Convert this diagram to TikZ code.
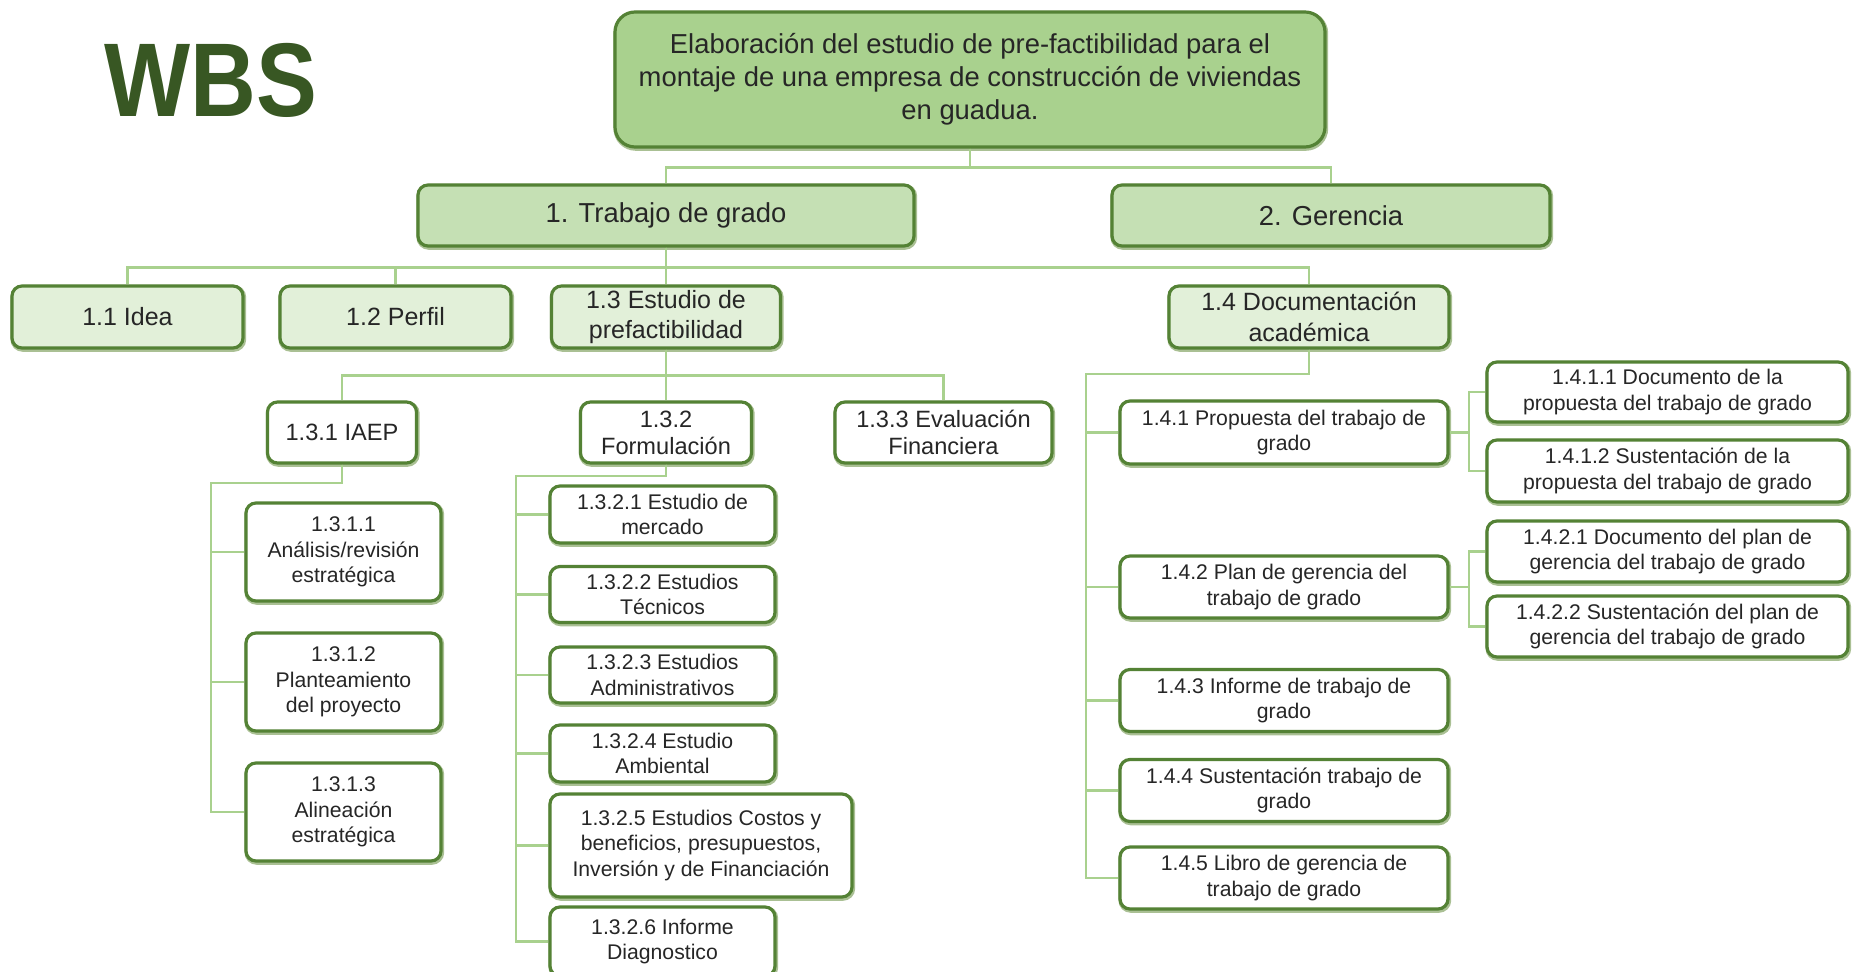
\documentclass[tikz,border=0pt]{standalone}
\usepackage{fontspec}
\setmainfont{Liberation Sans}

\definecolor{boxline}{RGB}{84,130,53}
\definecolor{halo}{RGB}{170,192,148}
\definecolor{linkgreen}{RGB}{169,209,142}
\definecolor{rootfill}{RGB}{169,209,142}
\definecolor{onefill}{RGB}{197,224,180}
\definecolor{twofill}{RGB}{226,240,217}
\definecolor{wbsgreen}{RGB}{56,87,35}
\definecolor{txt}{RGB}{38,38,38}

\tikzset{every picture/.style={line width=0.75pt}}
\tikzset{
  wbsbox/.style={draw=boxline, fill=white, line width=1.6pt, rounded corners=5pt, inner sep=0pt, align=center, text=txt,
    preaction={draw=halo, line width=2.4pt, transform canvas={xshift=0.4pt,yshift=-0.7pt}}},
  rootbox/.style={wbsbox, fill=rootfill, rounded corners=10pt, font=\fontsize{13.7}{16.5}\selectfont},
  onebox/.style={wbsbox, fill=onefill, minimum height=30.5pt, font=\fontsize{13.7}{16.5}\selectfont},
  twobox/.style={wbsbox, fill=twofill, minimum height=31pt, font=\fontsize{12.5}{15.4}\selectfont},
  threebox/.style={wbsbox, minimum height=30.5pt, font=\fontsize{11.8}{13.6}\selectfont},
  leafbox/.style={wbsbox, font=\fontsize{10.6}{12.8}\selectfont},
  link/.style={draw=linkgreen, line width=1.2pt}
}

\begin{document}
\begin{tikzpicture}[x=0.5pt,y=0.5pt,yscale=-1,xscale=1]
\useasboundingbox (0,0) rectangle (1855,972);
\clip (0,0) rectangle (1855,972);

% Title
\node[anchor=base, text=wbsgreen, font=\fontsize{52.4}{52.4}\bfseries\selectfont] (title) at (211,117) {\scalebox{0.87}[1]{WBS}};

%Rounded Rect: root and first level
\node[rootbox, minimum width=355pt, minimum height=67.5pt] (root) at (970,79.5)
  {Elaboración del estudio de pre-factibilidad para el\\montaje de una empresa de construcción de viviendas\\en guadua.};
\node[onebox, minimum width=248pt] (t1) at (666,215.5) {1. Trabajo de grado};
\node[onebox, minimum width=219pt] (g2) at (1331,215.5) {2. Gerencia};

%Rounded Rect: second level
\node[twobox, minimum width=115.5pt] (n11) at (127.5,317) {1.1 Idea};
\node[twobox, minimum width=115.5pt] (n12) at (395.5,317) {1.2 Perfil};
\node[twobox, minimum width=114.5pt] (n13) at (666,317) {1.3 Estudio de\\prefactibilidad};
\node[twobox, minimum width=140pt] (n14) at (1309,317) {1.4 Documentación\\académica};

%Rounded Rect: third level
\node[threebox, minimum width=74.5pt] (n131) at (342,432.5) {1.3.1 IAEP};
\node[threebox, minimum width=85.5pt] (n132) at (666,432.5) {1.3.2\\Formulación};
\node[threebox, minimum width=108.5pt] (n133) at (943.5,432.5) {1.3.3 Evaluación\\Financiera};

%Rounded Rect: 1.3.1
\node[leafbox, minimum width=97.5pt, minimum height=49pt] (n1311) at (343.5,552) {1.3.1.1\\Análisis/revisión\\estratégica};
\node[leafbox, minimum width=97.5pt, minimum height=49pt] (n1312) at (343.5,682) {1.3.1.2\\Planteamiento\\del proyecto};
\node[leafbox, minimum width=97.5pt, minimum height=49pt] (n1313) at (343.5,812) {1.3.1.3\\Alineación\\estratégica};

%Rounded Rect: 1.3.2
\node[leafbox, minimum width=112.5pt, minimum height=28.5pt] (n1321) at (662.5,514.5) {1.3.2.1 Estudio de\\mercado};
\node[leafbox, minimum width=112.5pt, minimum height=28pt] (n1322) at (662.5,594.5) {1.3.2.2 Estudios\\Técnicos};
\node[leafbox, minimum width=112.5pt, minimum height=28pt] (n1323) at (662.5,675) {1.3.2.3 Estudios\\Administrativos};
\node[leafbox, minimum width=112.5pt, minimum height=28.5pt] (n1324) at (662.5,753.5) {1.3.2.4 Estudio\\Ambiental};
\node[leafbox, minimum width=151pt, minimum height=51.5pt] (n1325) at (701,845.5) {1.3.2.5 Estudios Costos y\\beneficios, presupuestos,\\Inversión y de Financiación};
\node[leafbox, minimum width=112.5pt, minimum height=34.5pt] (n1326) at (662.5,941.5) {1.3.2.6 Informe\\Diagnostico};

%Rounded Rect: 1.4
\node[leafbox, minimum width=164pt, minimum height=31.5pt] (n141) at (1284,432.5) {1.4.1 Propuesta del trabajo de\\grado};
\node[leafbox, minimum width=164pt, minimum height=31pt] (n142) at (1284,587) {1.4.2 Plan de gerencia del\\trabajo de grado};
\node[leafbox, minimum width=164pt, minimum height=31pt] (n143) at (1284,700.5) {1.4.3 Informe de trabajo de\\grado};
\node[leafbox, minimum width=164pt, minimum height=31pt] (n144) at (1284,790.5) {1.4.4 Sustentación trabajo de\\grado};
\node[leafbox, minimum width=164pt, minimum height=31pt] (n145) at (1284,878) {1.4.5 Libro de gerencia de\\trabajo de grado};

%Rounded Rect: 1.4.1 and 1.4.2
\node[leafbox, minimum width=180.5pt, minimum height=30pt] (n1411) at (1667.5,392) {1.4.1.1 Documento de la\\propuesta del trabajo de grado};
\node[leafbox, minimum width=180.5pt, minimum height=31pt] (n1412) at (1667.5,471) {1.4.1.2 Sustentación de la\\propuesta del trabajo de grado};
\node[leafbox, minimum width=180.5pt, minimum height=30.5pt] (n1421) at (1667.5,551.5) {1.4.2.1 Documento del plan de\\gerencia del trabajo de grado};
\node[leafbox, minimum width=180.5pt, minimum height=30.5pt] (n1422) at (1667.5,626.5) {1.4.2.2 Sustentación del plan de\\gerencia del trabajo de grado};

% elbows
\coordinate (c131) at (211,483);
\coordinate (c132) at (516,476);
\coordinate (c14) at (1086,374);
\coordinate (c141) at (1469,432.5);
\coordinate (c142) at (1469,587);

%Straight Lines
\foreach \n in {t1,g2} \draw[link] (root.south) -- ++(0,19) -| (\n.north);
\foreach \n in {n11,n12,n13,n14} \draw[link] (t1.south) -- ++(0,20) -| (\n.north);
\foreach \n in {n131,n132,n133} \draw[link] (n13.south) -- ++(0,26) -| (\n.north);
\foreach \n in {n1311,n1312,n1313} \draw[link] (n131.south) |- (c131) |- (\n.west);
\foreach \n in {n1321,n1322,n1323,n1324,n1325,n1326} \draw[link] (n132.south) |- (c132) |- (\n.west);
\foreach \n in {n141,n142,n143,n144,n145} \draw[link] (n14.south) |- (c14) |- (\n.west);
\foreach \n in {n1411,n1412} \draw[link] (n141.east) -- (c141) |- (\n.west);
\foreach \n in {n1421,n1422} \draw[link] (n142.east) -- (c142) |- (\n.west);

\end{tikzpicture}
\end{document}
